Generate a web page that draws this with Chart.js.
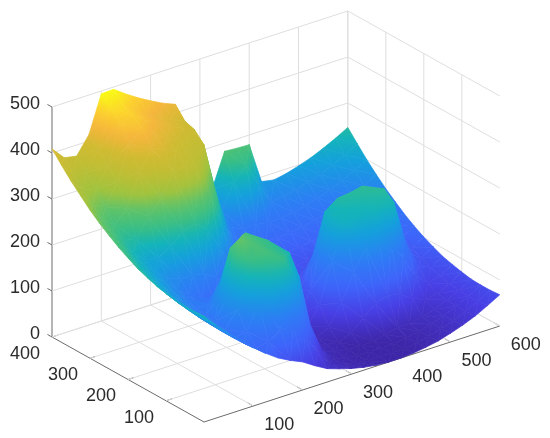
<!DOCTYPE html>
<html>
<head>
<meta charset="utf-8">
<script src="https://cdn.jsdelivr.net/npm/chart.js@4.4.1/dist/chart.umd.min.js"></script>
<style>
  html, body { margin: 0; padding: 0; background: #fff; }
  #wrap { width: 550px; height: 438px; position: relative; }
</style>
</head>
<body>
<div id="wrap"><canvas id="surf"></canvas></div>
<script>
// where the surface was sampled
const xSamples = [0, 25, 50, 75, 100, 125, 150, 175, 200, 225, 250, 275, 300, 325, 350, 375, 400, 425, 450, 475, 500, 525, 550, 575, 600];
const ySamples = [0, 25, 50, 75, 100, 125, 150, 175, 200, 225, 250, 275, 300, 325, 350, 375, 400];

// surface height, one row per y sample
const zAtY0   = [230, 201, 175, 150, 127, 106, 87, 73, 61, 44, 29, 20, 12, 6, 2, 0, 0, 2, 6, 11, 19, 28, 39, 53, 68];
const zAtY25  = [228, 200, 173, 148, 125, 106, 111, 128, 128, 97, 51, 19, 10, 4, 0, 0, 0, 0, 4, 9, 17, 26, 38, 51, 66];
const zAtY50  = [228, 199, 173, 148, 125, 130, 181, 246, 262, 212, 111, 40, 10, 4, 0, 0, 0, 0, 4, 9, 17, 26, 37, 51, 66];
const zAtY75  = [230, 201, 174, 149, 130, 166, 265, 279, 264, 250, 196, 73, 14, 6, 2, 0, 1, 8, 14, 15, 19, 28, 39, 52, 67];
const zAtY100 = [233, 204, 178, 153, 137, 184, 300, 282, 267, 254, 235, 90, 20, 9, 5, 17, 41, 64, 73, 66, 49, 37, 42, 55, 71];
const zAtY125 = [238, 209, 183, 158, 138, 172, 268, 288, 272, 259, 200, 79, 22, 14, 27, 71, 129, 174, 188, 169, 124, 78, 53, 61, 76];
const zAtY150 = [245, 216, 189, 165, 142, 144, 188, 252, 272, 218, 128, 57, 27, 25, 64, 149, 225, 227, 230, 236, 235, 137, 78, 67, 82];
const zAtY175 = [253, 225, 198, 173, 150, 130, 133, 146, 145, 116, 73, 44, 35, 36, 83, 186, 234, 235, 239, 245, 252, 166, 94, 76, 91];
const zAtY200 = [264, 235, 208, 184, 161, 140, 121, 106, 93, 76, 63, 53, 46, 41, 71, 139, 226, 246, 249, 255, 210, 135, 89, 86, 101];
const zAtY225 = [276, 247, 220, 196, 173, 164, 163, 158, 140, 111, 82, 66, 58, 52, 55, 85, 128, 163, 176, 162, 129, 98, 86, 98, 113];
const zAtY250 = [290, 261, 234, 210, 206, 223, 246, 254, 233, 185, 131, 90, 72, 66, 62, 63, 78, 93, 101, 98, 90, 88, 99, 112, 127];
const zAtY275 = [305, 277, 250, 245, 285, 315, 364, 370, 354, 292, 206, 135, 93, 81, 77, 75, 75, 77, 82, 86, 94, 103, 115, 128, 143];
const zAtY300 = [322, 294, 273, 300, 370, 412, 404, 387, 372, 358, 292, 192, 127, 99, 95, 93, 93, 94, 98, 104, 111, 121, 132, 145, 160];
const zAtY325 = [342, 313, 300, 345, 420, 442, 423, 406, 391, 377, 366, 251, 165, 121, 114, 112, 112, 114, 117, 123, 130, 140, 151, 164, 179];
const zAtY350 = [362, 334, 328, 368, 452, 463, 444, 427, 412, 398, 387, 301, 202, 148, 136, 138, 133, 134, 138, 144, 151, 160, 172, 185, 200];
const zAtY375 = [385, 356, 353, 393, 476, 471, 452, 435, 419, 406, 394, 326, 227, 172, 226, 255, 204, 157, 161, 166, 174, 183, 194, 208, 223];
const zAtY400 = [409, 381, 376, 414, 494, 495, 476, 459, 444, 430, 419, 345, 249, 209, 282, 280, 279, 190, 185, 190, 198, 207, 219, 232, 247];
const zRows = [zAtY0, zAtY25, zAtY50, zAtY75, zAtY100, zAtY125, zAtY150, zAtY175, zAtY200,
               zAtY225, zAtY250, zAtY275, zAtY300, zAtY325, zAtY350, zAtY375, zAtY400];

const xTicks = [100, 200, 300, 400, 500, 600];
const yTicks = [100, 200, 300, 400];
const zTicks = [0, 100, 200, 300, 400, 500];
const xMax = 600, yMax = 400, zMax = 500;

// camera: screen spot of the origin and screen step per unit of x, y and z
const view = { ox: 204, oy: 422, xu: 0.493, xv: -0.16, yu: -0.38, yv: -0.2125, zv: -0.46 };
function project(x, y, z) {
  return { x: view.ox + view.xu * x + view.yu * y, y: view.oy + view.xv * x + view.yv * y + view.zv * z };
}
// direction along which the screen does not move, pointing away from the viewer
const away = [view.yu * view.zv, -view.xu * view.zv, view.xu * view.yv - view.yu * view.xv];
const depthOf = (p) => away[0] * p[0] + away[1] * p[1] + away[2] * p[2];

// parula-like colour ramp
const paruT = [0, 0.1, 0.2, 0.3, 0.4, 0.47, 0.53, 0.6, 0.66, 0.73, 0.8, 0.87, 0.94, 1];
const paruC = [[62,38,168],[72,62,228],[62,100,250],[45,125,245],[20,160,220],[20,180,185],[55,190,135],
               [95,195,105],[160,195,62],[190,190,52],[208,187,50],[245,182,60],[252,210,45],[249,250,20]];
function colorAt(t) {
  t = Math.max(0, Math.min(1, t));
  let k = 0;
  while (k < paruT.length - 2 && t > paruT[k + 1]) k++;
  const f = (t - paruT[k]) / (paruT[k + 1] - paruT[k]);
  const c = paruC[k].map((v, i) => Math.round(v + (paruC[k + 1][i] - v) * f));
  return `rgb(${c[0]},${c[1]},${c[2]})`;
}
const allZ = zRows.flat();
const cLo = Math.min(...allZ), cHi = Math.max(...allZ);
const norm = (z) => (z - cLo) / (cHi - cLo);

const datasets = [];
function line3d(pts, color, width, order) {
  datasets.push({
    data: pts.map(p => project(p[0], p[1], p[2])),
    borderColor: color, borderWidth: width, pointRadius: 0, fill: false, tension: 0, order
  });
}

// back walls and floor grid
const gridColor = '#dedede';
xTicks.forEach(x => {
  line3d([[x, yMax, 0], [x, yMax, zMax]], gridColor, 1, 90000);
  line3d([[x, 0, 0], [x, yMax, 0]], gridColor, 1, 90000);
});
yTicks.forEach(y => {
  line3d([[xMax, y, 0], [xMax, y, zMax]], gridColor, 1, 90000);
  line3d([[0, y, 0], [xMax, y, 0]], gridColor, 1, 90000);
});
zTicks.forEach(z => {
  line3d([[0, yMax, z], [xMax, yMax, z]], gridColor, 1, 90000);
  line3d([[xMax, 0, z], [xMax, yMax, z]], gridColor, 1, 90000);
});

// axes and ticks
const axisColor = '#6b6b6b';
line3d([[0, 0, 0], [xMax, 0, 0]], axisColor, 1, 90001);
line3d([[0, 0, 0], [0, yMax, 0]], axisColor, 1, 90001);
line3d([[0, yMax, 0], [0, yMax, zMax]], axisColor, 1, 90001);
xTicks.forEach(x => line3d([[x, 0, 0], [x, 15, 0]], axisColor, 1, 90001));
yTicks.forEach(y => line3d([[0, y, 0], [12, y, 0]], axisColor, 1, 90001));
zTicks.forEach(z => line3d([[0, yMax, z], [0, yMax + 12, z]], axisColor, 1, 90001));

// surface triangles, nearest first (lowest order is painted last)
const tris = [];
for (let j = 0; j < ySamples.length - 1; j++) {
  for (let i = 0; i < xSamples.length - 1; i++) {
    const P = (a, b) => [xSamples[a], ySamples[b], zRows[b][a]];
    const p00 = P(i, j), p10 = P(i + 1, j), p11 = P(i + 1, j + 1), p01 = P(i, j + 1);
    const pair = Math.abs(p00[2] - p11[2]) <= Math.abs(p10[2] - p01[2])
      ? [[p00, p10, p11], [p00, p11, p01]]
      : [[p00, p10, p01], [p10, p11, p01]];
    pair.forEach(c => tris.push({ c, depth: c.reduce((s, p) => s + depthOf(p), 0) / 3 }));
  }
}
tris.sort((a, b) => a.depth - b.depth);

// a triangle is flat, so a linear gradient gives its exact colour spread
function triPaint(chart, q) {
  const sx = chart.scales.x, sy = chart.scales.y;
  const zs = q.c.map(p => p[2]);
  const mean = (zs[0] + zs[1] + zs[2]) / 3;
  if (!sx || !sy || !(sx.right > sx.left) || !(sy.bottom > sy.top)) return colorAt(norm(mean));
  const key = `${sx.left},${sx.right},${sy.top},${sy.bottom}`;
  if (q.paint && q.key === key) return q.paint;
  const s = q.c.map(p => {
    const o = project(p[0], p[1], p[2]);
    return [sx.getPixelForValue(o.x), sy.getPixelForValue(o.y)];
  });
  const u1 = s[1][0] - s[0][0], v1 = s[1][1] - s[0][1];
  const u2 = s[2][0] - s[0][0], v2 = s[2][1] - s[0][1];
  const z1 = zs[1] - zs[0], z2 = zs[2] - zs[0];
  const det = u1 * v2 - v1 * u2;
  const lo = Math.min(...zs), hi = Math.max(...zs);
  let paint = colorAt(norm(mean));
  if (Math.abs(det) > 0.5 && hi - lo > 0.5) {
    const a = (z1 * v2 - v1 * z2) / det, b = (u1 * z2 - z1 * u2) / det;
    const g2 = a * a + b * b;
    if (g2 > 1e-9) {
      const g = chart.ctx.createLinearGradient(
        s[0][0] + a * (lo - zs[0]) / g2, s[0][1] + b * (lo - zs[0]) / g2,
        s[0][0] + a * (hi - zs[0]) / g2, s[0][1] + b * (hi - zs[0]) / g2);
      for (let k = 0; k <= 6; k++) g.addColorStop(k / 6, colorAt(norm(lo + (hi - lo) * k / 6)));
      paint = g;
    }
  }
  q.paint = paint; q.key = key;
  return paint;
}

tris.forEach((q, k) => {
  const c = q.c;
  datasets.push({
    data: [c[0], c[1], c[2], c[0]].map(p => project(p[0], p[1], p[2])),
    backgroundColor: (ctx) => triPaint(ctx.chart, q),
    borderColor: (ctx) => triPaint(ctx.chart, q),
    borderWidth: 0.7,
    borderJoinStyle: 'round',
    pointRadius: 0,
    tension: 0,
    fill: 'shape',
    order: k
  });
});

const tickLabels = {
  id: 'tickLabels',
  afterDatasetsDraw(chart) {
    const c = chart.ctx, sx = chart.scales.x, sy = chart.scales.y;
    const at = (p) => [sx.getPixelForValue(p.x), sy.getPixelForValue(p.y)];
    c.save();
    c.fillStyle = '#2b2b2b';
    c.font = '18px "Liberation Sans", Arial, Helvetica, sans-serif';
    c.textBaseline = 'middle';
    c.textAlign = 'right';
    zTicks.forEach(z => { const [px, py] = at(project(0, yMax, z)); c.fillText(String(z), px - 12, py - 3); });
    c.textAlign = 'center';
    yTicks.forEach(y => { const [px, py] = at(project(0, y, 0)); c.fillText(String(y), px - 27, py + 17); });
    xTicks.forEach(x => { const [px, py] = at(project(x, 0, 0)); c.fillText(String(x), px + 26, py + 19); });
    c.restore();
  }
};

new Chart(document.getElementById('surf'), {
  type: 'line',
  data: { datasets },
  options: {
    responsive: true,
    maintainAspectRatio: false,
    animation: false,
    events: [],
    layout: { padding: 0 },
    plugins: { legend: { display: false }, tooltip: { enabled: false } },
    scales: {
      x: { type: 'linear', min: 0, max: 550, display: false },
      y: { type: 'linear', min: 0, max: 438, reverse: true, display: false }
    }
  },
  plugins: [tickLabels]
});
</script>
</body>
</html>
